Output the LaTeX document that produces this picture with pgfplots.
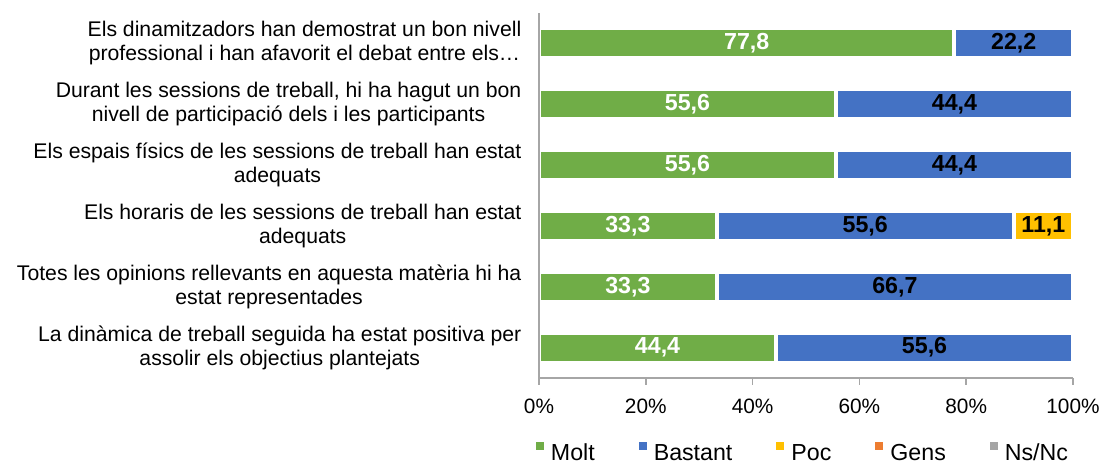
\documentclass[border=0pt]{standalone}
\usepackage{pgfplots}
\pgfplotsset{compat=1.18}
\usepackage{fontspec}
\setmainfont{Liberation Sans}

\definecolor{molt}{HTML}{70AD47}
\definecolor{bastant}{HTML}{4472C4}
\definecolor{poc}{HTML}{FFC000}
\definecolor{gens}{HTML}{ED7D31}
\definecolor{nsnc}{HTML}{A5A5A5}
\definecolor{axgray}{HTML}{A6A6A6}
\tikzset{lbl/.style={font=\fontsize{11.6}{13}\selectfont\bfseries}}

\begin{document}
\begin{tikzpicture}
\begin{axis}[
    at={(0,0)}, anchor=south west,
    scale only axis,
    width=267pt, height=182.5pt,
    xbar stacked,
    bar width=15pt,
    xmin=0, xmax=100,
    ymin=-0.5, ymax=5.5,
    axis x line*=bottom,
    axis y line*=left,
    axis line style={axgray, line width=0.8pt, -},
    axis on top,
    xtick={0,20,40,60,80,100},
    xticklabels={0\%,20\%,40\%,60\%,80\%,100\%},
    xtick style={axgray, line width=0.8pt},
    major tick length=3.3pt,
    tick align=outside,
    xticklabel style={font=\fontsize{10.4}{12}\selectfont, yshift=-3.5pt},
    ytick={0,1,2,3,4,5},
    yticklabels={
      {La dinàmica de treball seguida ha estat positiva per\\assolir els objectius plantejats},
      {Totes les opinions rellevants en aquesta matèria hi ha\\estat representades},
      {Els horaris de les sessions de treball han estat\\adequats},
      {Els espais físics de les sessions de treball han estat\\adequats},
      {Durant les sessions de treball, hi ha hagut un bon\\nivell de participació dels i les participants},
      {Els dinamitzadors han demostrat un bon nivell\\professional i han afavorit el debat entre els…}
    },
    yticklabel style={font=\fontsize{10.6}{12}\selectfont, align=center, xshift=-2pt},
    ytick style={draw=none},
    minor ytick={-0.5,0.5,1.5,2.5,3.5,4.5,5.5},
    minor tick length=3.3pt,
    every minor tick/.append style={axgray, line width=0.8pt},
    legend style={at={(0.5,-0.205)}, anchor=center, xshift=-2pt, draw=none,
      font=\fontsize{11.6}{13}\selectfont, legend columns=5,
      nodes={inner sep=0pt},
      /tikz/every odd column/.append style={column sep=3.5pt},
      /tikz/every even column/.append style={column sep=22pt}},
    legend image code/.code={\fill[#1, draw=none] (0pt,1.7pt) rectangle (4pt,5.7pt);},
    every axis plot/.append style={draw=white, line width=2pt},
    after end axis/.code={
      \node[lbl, white] at (axis cs:38.9,5) {77,8};
      \node[lbl, black] at (axis cs:88.9,5) {22,2};
      \node[lbl, white] at (axis cs:27.8,4) {55,6};
      \node[lbl, black] at (axis cs:77.8,4) {44,4};
      \node[lbl, white] at (axis cs:27.8,3) {55,6};
      \node[lbl, black] at (axis cs:77.8,3) {44,4};
      \node[lbl, white] at (axis cs:16.65,2) {33,3};
      \node[lbl, black] at (axis cs:61.1,2) {55,6};
      \node[lbl, black] at (axis cs:94.45,2) {11,1};
      \node[lbl, white] at (axis cs:16.65,1) {33,3};
      \node[lbl, black] at (axis cs:66.65,1) {66,7};
      \node[lbl, white] at (axis cs:22.2,0) {44,4};
      \node[lbl, black] at (axis cs:72.2,0) {55,6};
    },
]
\addplot[fill=molt] coordinates {(44.4,0) (33.3,1) (33.3,2) (55.6,3) (55.6,4) (77.8,5)};
\addplot[fill=bastant] coordinates {(55.6,0) (66.7,1) (55.6,2) (44.4,3) (44.4,4) (22.2,5)};
\addplot[fill=poc] coordinates {(0,0) (0,1) (11.1,2) (0,3) (0,4) (0,5)};
\addplot[fill=gens, draw=none] coordinates {(0,0) (0,1) (0,2) (0,3) (0,4) (0,5)};
\addplot[fill=nsnc, draw=none] coordinates {(0,0) (0,1) (0,2) (0,3) (0,4) (0,5)};
\legend{Molt,Bastant,Poc,Gens,Ns/Nc}
\end{axis}
\pgfresetboundingbox
\path[use as bounding box] (-269.5pt,-42.5pt) rectangle (282.5pt,189pt);
\end{tikzpicture}
\end{document}
